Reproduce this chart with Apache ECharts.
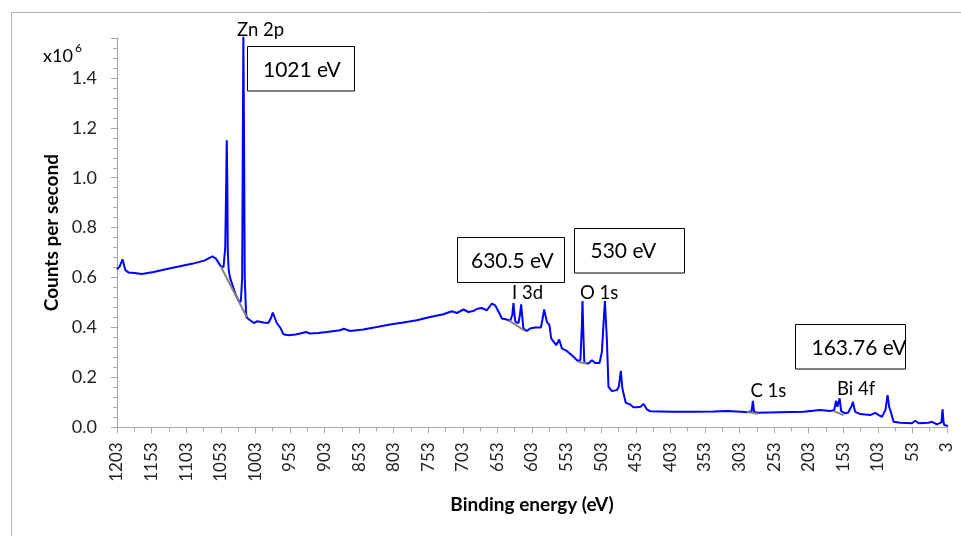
<!DOCTYPE html>
<html>
<head>
<meta charset="utf-8">
<script src="https://cdn.jsdelivr.net/npm/echarts@6/dist/echarts.min.js"></script>
<style>
html,body{margin:0;padding:0;background:#fff;}
#chart{width:961px;height:536px;}
</style>
</head>
<body>
<div id="chart"></div>
<script>
// Binding energy (eV) of each sampled point of the survey spectrum
const energy = [1203,1199,1195,1191,1186,1178,1167,1150,1131,1112,1093,1076,1065,1060,1053,1049,1046.5,1045,1044.3,1043.6,1042.8,1041.5,1039.6,1032,1027.6,1024,1022,1021,1020.3,1019.4,1018.3,1016.5,1015.5,1010.6,1005,1000,997.2,991.4,984.2,980,977.8,975,972,966.2,962.5,955.2,945,938.3,929.6,923.9,912,899.7,880.5,875,873.2,870,866,846.8,827.4,808.2,789,769.5,750.3,731,719,711.7,702,695,688,683,676,668.3,661,656.3,653.8,650,646.6,639.5,634.6,631.5,629.8,628.3,627,622.6,620.5,618.7,617,615.4,610.5,605.7,598.5,590.2,588,585.4,581.5,577.8,575.3,568,563.7,559.8,552.6,545.4,536.7,533,531,530,529,527.5,527,521.3,516.4,511.6,505.4,502,499.5,497.6,496,494.7,492.4,487.5,480.3,477.5,474.6,472.5,470.8,467.4,462.1,456.3,451.4,446,441.8,437,432,429.7,400,370,340,321,300,292.3,285.5,283.7,282,277.8,244,210.4,186.3,171.8,166,163.6,161.5,158.3,156,153.5,150.2,146,141,139,137,135.7,128.4,114,106.7,101,97,92,88.9,86.5,85,80.2,70.5,53.7,48.9,44,29.6,24.8,17.5,11,9.4,8,7,0.7];
// Counts per second (x10^6)
const counts = [0.633,0.645,0.673,0.630,0.620,0.618,0.614,0.622,0.634,0.645,0.656,0.669,0.685,0.676,0.645,0.642,0.720,1.000,1.150,1.000,0.700,0.630,0.600,0.536,0.509,0.503,0.600,1.200,1.565,1.200,0.600,0.460,0.440,0.429,0.418,0.425,0.432,0.420,0.418,0.440,0.460,0.440,0.418,0.396,0.373,0.369,0.372,0.376,0.382,0.376,0.378,0.382,0.389,0.395,0.402,0.390,0.386,0.392,0.402,0.412,0.420,0.429,0.442,0.453,0.465,0.458,0.472,0.462,0.466,0.474,0.478,0.469,0.496,0.489,0.489,0.456,0.436,0.432,0.426,0.450,0.498,0.450,0.422,0.418,0.450,0.493,0.440,0.396,0.386,0.396,0.400,0.400,0.430,0.472,0.422,0.409,0.356,0.329,0.352,0.316,0.306,0.289,0.266,0.270,0.400,0.506,0.400,0.270,0.258,0.256,0.269,0.258,0.258,0.302,0.420,0.506,0.420,0.349,0.162,0.145,0.149,0.162,0.226,0.160,0.136,0.098,0.093,0.080,0.080,0.082,0.094,0.072,0.064,0.062,0.062,0.062,0.063,0.065,0.062,0.060,0.064,0.106,0.064,0.058,0.060,0.062,0.069,0.065,0.069,0.106,0.082,0.116,0.065,0.060,0.056,0.058,0.085,0.102,0.075,0.062,0.053,0.049,0.058,0.048,0.042,0.070,0.129,0.080,0.069,0.022,0.018,0.016,0.026,0.016,0.018,0.022,0.012,0.020,0.072,0.020,0.009,0.005];
// Linear backgrounds under the fitted peaks: [energy start, energy end], [counts start, counts end]
const bgZnE = [1053, 1015.4], bgZnC = [0.645, 0.442];
const bgIE = [637, 613], bgIC = [0.429, 0.386];
const bgOE = [535.8, 523.7], bgOC = [0.262, 0.256];
const bgCE = [292.3, 276.4], bgCC = [0.061, 0.054];
const bgBiE = [167, 152.6], bgBiC = [0.065, 0.049];
// Axis ranges
const xMin = 3, xMax = 1203, xStep = 50;
const yMin = 0, yMax = 1.56, yStep = 0.2;

const FONT = 'Lato';
const zip = (a, b) => a.map((v, i) => [v, b[i]]);
const bgPairs = [[bgZnE, bgZnC], [bgIE, bgIC], [bgOE, bgOC], [bgCE, bgCC], [bgBiE, bgBiC]];

const chart = echarts.init(document.getElementById('chart'), null, {renderer: 'canvas'});
const txt = (text, x, y, size, extra) => Object.assign({
  type: 'text', x: x, y: y, z: 100,
  style: {text: text, fill: '#000', fontFamily: FONT, fontSize: size, verticalAlign: 'middle', align: 'left'}
}, extra || {});
const box = (x, y, w, h) => ({
  type: 'rect', z: 90, shape: {x: x, y: y, width: w, height: h},
  style: {fill: '#fff', stroke: '#000', lineWidth: 1}
});

chart.setOption({
  animation: false,
  backgroundColor: '#fff',
  grid: {left: 117, top: 38, width: 830, height: 389.3, containLabel: false},
  xAxis: {
    type: 'value', inverse: true, min: xMin, max: xMax, interval: xStep,
    name: 'Binding energy (eV)', nameLocation: 'middle', nameGap: 68,
    nameTextStyle: {fontFamily: FONT, fontSize: 19, fontWeight: 'bold', color: '#000'},
    axisLine: {show: true, lineStyle: {color: '#a6a6a6', width: 1}},
    axisTick: {show: true, length: 6, lineStyle: {color: '#a6a6a6'}},
    minorTick: {show: true, splitNumber: 2, length: 4, lineStyle: {color: '#a6a6a6'}},
    splitLine: {show: false},
    axisLabel: {rotate: 90, margin: 15, fontFamily: FONT, fontSize: 17, color: '#222',
      formatter: v => String(v)}
  },
  yAxis: {
    type: 'value', min: yMin, max: yMax, interval: yStep,
    name: 'Counts per second', nameLocation: 'middle', nameGap: 54,
    nameTextStyle: {fontFamily: FONT, fontSize: 19, fontWeight: 'bold', color: '#000'},
    axisLine: {show: true, lineStyle: {color: '#a6a6a6', width: 1}},
    axisTick: {show: true, length: 6, lineStyle: {color: '#a6a6a6'}},
    minorTick: {show: true, splitNumber: 5, length: 4, lineStyle: {color: '#a6a6a6'}},
    splitLine: {show: false},
    axisLabel: {margin: 20, fontFamily: FONT, fontSize: 18, color: '#222', showMaxLabel: false,
      formatter: v => v.toFixed(1)}
  },
  series: [{
    type: 'line', data: zip(energy, counts), showSymbol: false, clip: false,
    lineStyle: {color: '#0000ff', width: 2}, z: 3
  }].concat(bgPairs.map(p => ({
    type: 'line', data: zip(p[0], p[1]), showSymbol: false,
    lineStyle: {color: '#808080', width: 2}, z: 4
  }))),
  graphic: [
    {type: 'rect', z: 1, shape: {x: 11.5, y: 12.5, width: 960, height: 540}, style: {fill: 'none', stroke: '#b4b4b4', lineWidth: 1}},
    txt('x10', 43, 56, 18),
    txt('6', 75, 48, 12),
    txt('Zn 2p', 237, 30, 18.5),
    box(247.5, 46.5, 107, 44.5), txt('1021 eV', 263, 70, 21),
    box(457.5, 237.5, 107, 45), txt('630.5 eV', 471, 261, 21),
    box(574.5, 228.5, 110, 44.5), txt('530 eV', 590.5, 251.5, 21),
    box(795.5, 324.5, 110, 44.5), txt('163.76 eV', 811.5, 348, 21),
    txt('I 3d', 512, 293, 18.5),
    txt('O 1s', 580, 293, 18.5),
    txt('C 1s', 750.5, 391.5, 18.5),
    txt('Bi 4f', 837, 389.5, 18.5)
  ]
});
</script>
</body>
</html>
